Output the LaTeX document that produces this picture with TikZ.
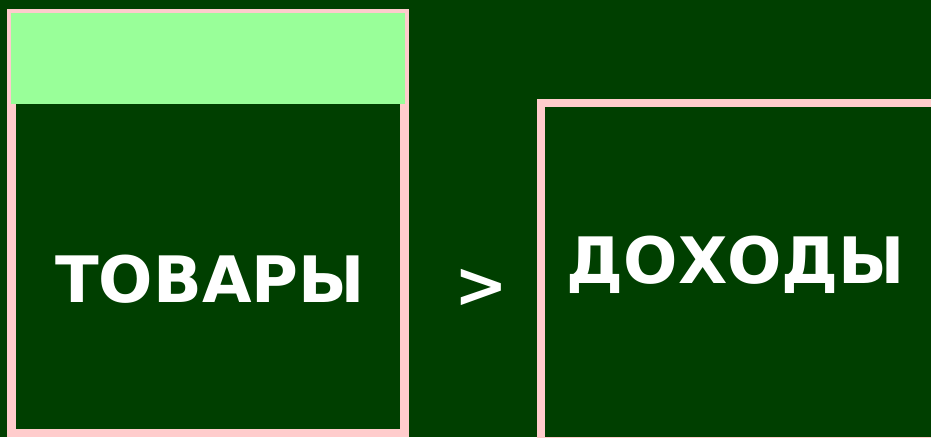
\documentclass[tikz,border=0pt]{standalone}
\usepackage{fontspec}
\setmainfont{DejaVu Sans}
\definecolor{bg}{HTML}{003F00}
\definecolor{pinkb}{HTML}{FFCCCC}
\definecolor{lgreen}{HTML}{99FF99}
\begin{document}
\begin{tikzpicture}[x=1pt,y=-1pt,
  box/.style={draw=pinkb,line width=8.4pt,fill=bg},
  lbl/.style={text=white,font=\bfseries\fontsize{64}{70}\selectfont,anchor=base,inner sep=0pt}]
\fill[bg] (0,0) rectangle (931,437);
\useasboundingbox (0,0) rectangle (931,437);
\draw[box] (11.5,13) rectangle (404.5,433);
\fill[lgreen] (11.3,13) rectangle (405,104);
\draw[box] (540.8,103.2) rectangle (940,441);
\node[lbl] (t) at (210,302) {ТОВАРЫ};
\node[lbl] (d) at (736,283) {ДОХОДЫ};
\node[lbl] (g) at (481,307) {>};
\end{tikzpicture}
\end{document}
